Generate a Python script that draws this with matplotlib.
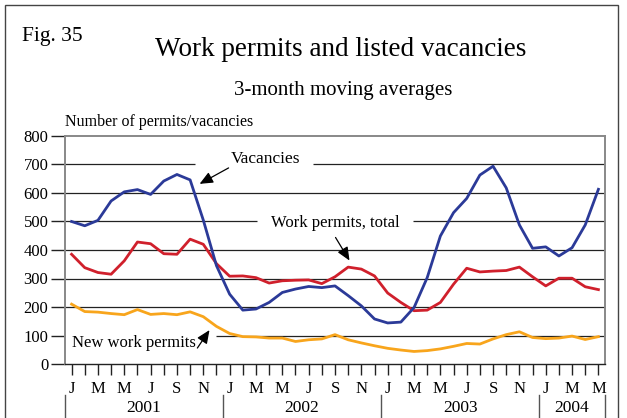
import matplotlib
matplotlib.use("Agg")
import matplotlib.pyplot as plt
from matplotlib.patches import Rectangle
import numpy as np

plt.rcParams['font.family'] = ['Liberation Serif', 'DejaVu Serif']

# Monthly observations, Jan 2001 - May 2004 (3-month moving averages)
months = ["J", "F", "M", "A", "M", "J", "J", "A", "S", "O", "N", "D"] * 3 + ["J", "F", "M", "A", "M"]
years = ["2001", "2002", "2003", "2004"]
year_lengths = [12, 12, 12, 5]

vacancies = [500, 485, 504, 572, 604, 612, 595, 642, 665, 646, 505, 345,
             245, 189, 193, 216, 251, 263, 272, 268, 274, 240, 204, 158,
             144, 147, 198, 303, 449, 531, 581, 663, 694, 618, 488, 406,
             411, 379, 408, 488, 613]
work_permits_total = [385, 338, 321, 315, 362, 428, 422, 387, 385, 438, 420, 352,
                      308, 309, 303, 284, 292, 294, 295, 282, 306, 340, 333, 309,
                      249, 216, 187, 189, 216, 280, 336, 323, 326, 328, 340, 306,
                      274, 301, 301, 271, 261]
new_work_permits = [210, 184, 182, 177, 173, 191, 174, 177, 173, 183, 166, 132,
                    107, 96, 95, 91, 91, 79, 85, 88, 103, 85, 74, 64,
                    55, 49, 44, 47, 53, 62, 72, 70, 88, 103, 113, 93,
                    89, 91, 98, 86, 96]

BLUE = "#2b3a98"
RED = "#d0202c"
ORANGE = "#f8a51c"

W, H = 627, 418
fig = plt.figure(figsize=(W / 100, H / 100), dpi=100)

def fx(px):
    return px / W

def fy(py):
    return 1 - py / H

# outer frame of the figure panel
fig.add_artist(Rectangle((fx(5), fy(430)), fx(618) - fx(5), fy(5) - fy(430),
                         transform=fig.transFigure, fill=False,
                         edgecolor="#444444", linewidth=1.0, clip_on=False))

ax = fig.add_axes([fx(65), fy(364), fx(605) - fx(65), fy(136) - fy(364)])
x = np.arange(len(vacancies))
ax.set_xlim(-0.5, len(vacancies) - 0.5)
ax.set_ylim(0, 800)

# horizontal gridlines, broken where the series labels sit
gaps = {700: (9.35, 18.3), 500: (14.1, 25.9), 100: (-0.5, 11.0)}
xmin, xmax = -0.5, len(vacancies) - 0.5
for level in range(100, 800, 100):
    if level in gaps:
        a, b = gaps[level]
        segs = [(xmin, a), (b, xmax)]
    else:
        segs = [(xmin, xmax)]
    for s0, s1 in segs:
        if s1 > s0:
            ax.plot([s0, s1], [level, level], color="#222222", lw=0.9,
                    solid_capstyle="butt", zorder=1)

ax.plot(x, new_work_permits, color=ORANGE, lw=2.0, zorder=3)
ax.plot(x, work_permits_total, color=RED, lw=2.0, zorder=3)
ax.plot(x, vacancies, color=BLUE, lw=2.0, zorder=4)

for side in ["top", "right", "left"]:
    ax.spines[side].set_color("#888888")
    ax.spines[side].set_linewidth(1.4)
ax.spines["bottom"].set_color("#222222")
ax.spines["bottom"].set_linewidth(1.0)

ax.set_yticks(range(0, 801, 100))
ax.set_yticklabels([str(v) for v in range(0, 801, 100)], fontsize=12)
ax.tick_params(axis="y", length=10, width=1.0, color="#222222", pad=2)

ax.set_xticks(x)
ax.set_xticklabels([m if i % 2 == 0 else "" for i, m in enumerate(months)],
                   fontsize=12)
ax.tick_params(axis="x", length=8, width=1.0, color="#222222", pad=4)

# year labels and separators under the month letters
start = 0
for yr, n in zip(years, year_lengths):
    left = start - 0.5
    right = start + n - 0.5
    ax.text((left + right) / 2, -0.195, yr, transform=ax.get_xaxis_transform(),
            ha="center", va="center", fontsize=12.5)
    ax.plot([left, left], [-0.135, -0.26], transform=ax.get_xaxis_transform(),
            color="#555555", lw=1.0, clip_on=False)
    start += n
ax.plot([xmax, xmax], [-0.135, -0.26], transform=ax.get_xaxis_transform(),
        color="#555555", lw=1.0, clip_on=False)

arrow = dict(arrowstyle="-|>,head_length=0.8,head_width=0.35", color="black",
             lw=0.9, shrinkA=0, shrinkB=0)
ax.text(14.72, 719, "Vacancies", ha="center", va="center", fontsize=12.5)
ax.annotate("", xy=(9.72, 632), xytext=(11.92, 688), arrowprops=arrow)
ax.text(20.04, 496, "Work permits, total", ha="center", va="center", fontsize=12)
ax.annotate("", xy=(21.1, 363), xytext=(20.04, 444), arrowprops=arrow)
ax.text(0.05, 73, "New work permits", ha="left", va="center", fontsize=12)
ax.annotate("", xy=(10.47, 119), xytext=(9.55, 56), arrowprops=arrow)

fig.text(fx(22), fy(36), "Fig. 35", ha="left", va="center", fontsize=15.5)
fig.text(fx(341), fy(49), "Work permits and listed vacancies", ha="center",
         va="center", fontsize=19.5)
fig.text(fx(343), fy(91), "3-month moving averages", ha="center", va="center",
         fontsize=15)
fig.text(fx(65), fy(122), "Number of permits/vacancies", ha="left", va="center",
         fontsize=11.5)

fig.savefig("out.png", dpi=100)
